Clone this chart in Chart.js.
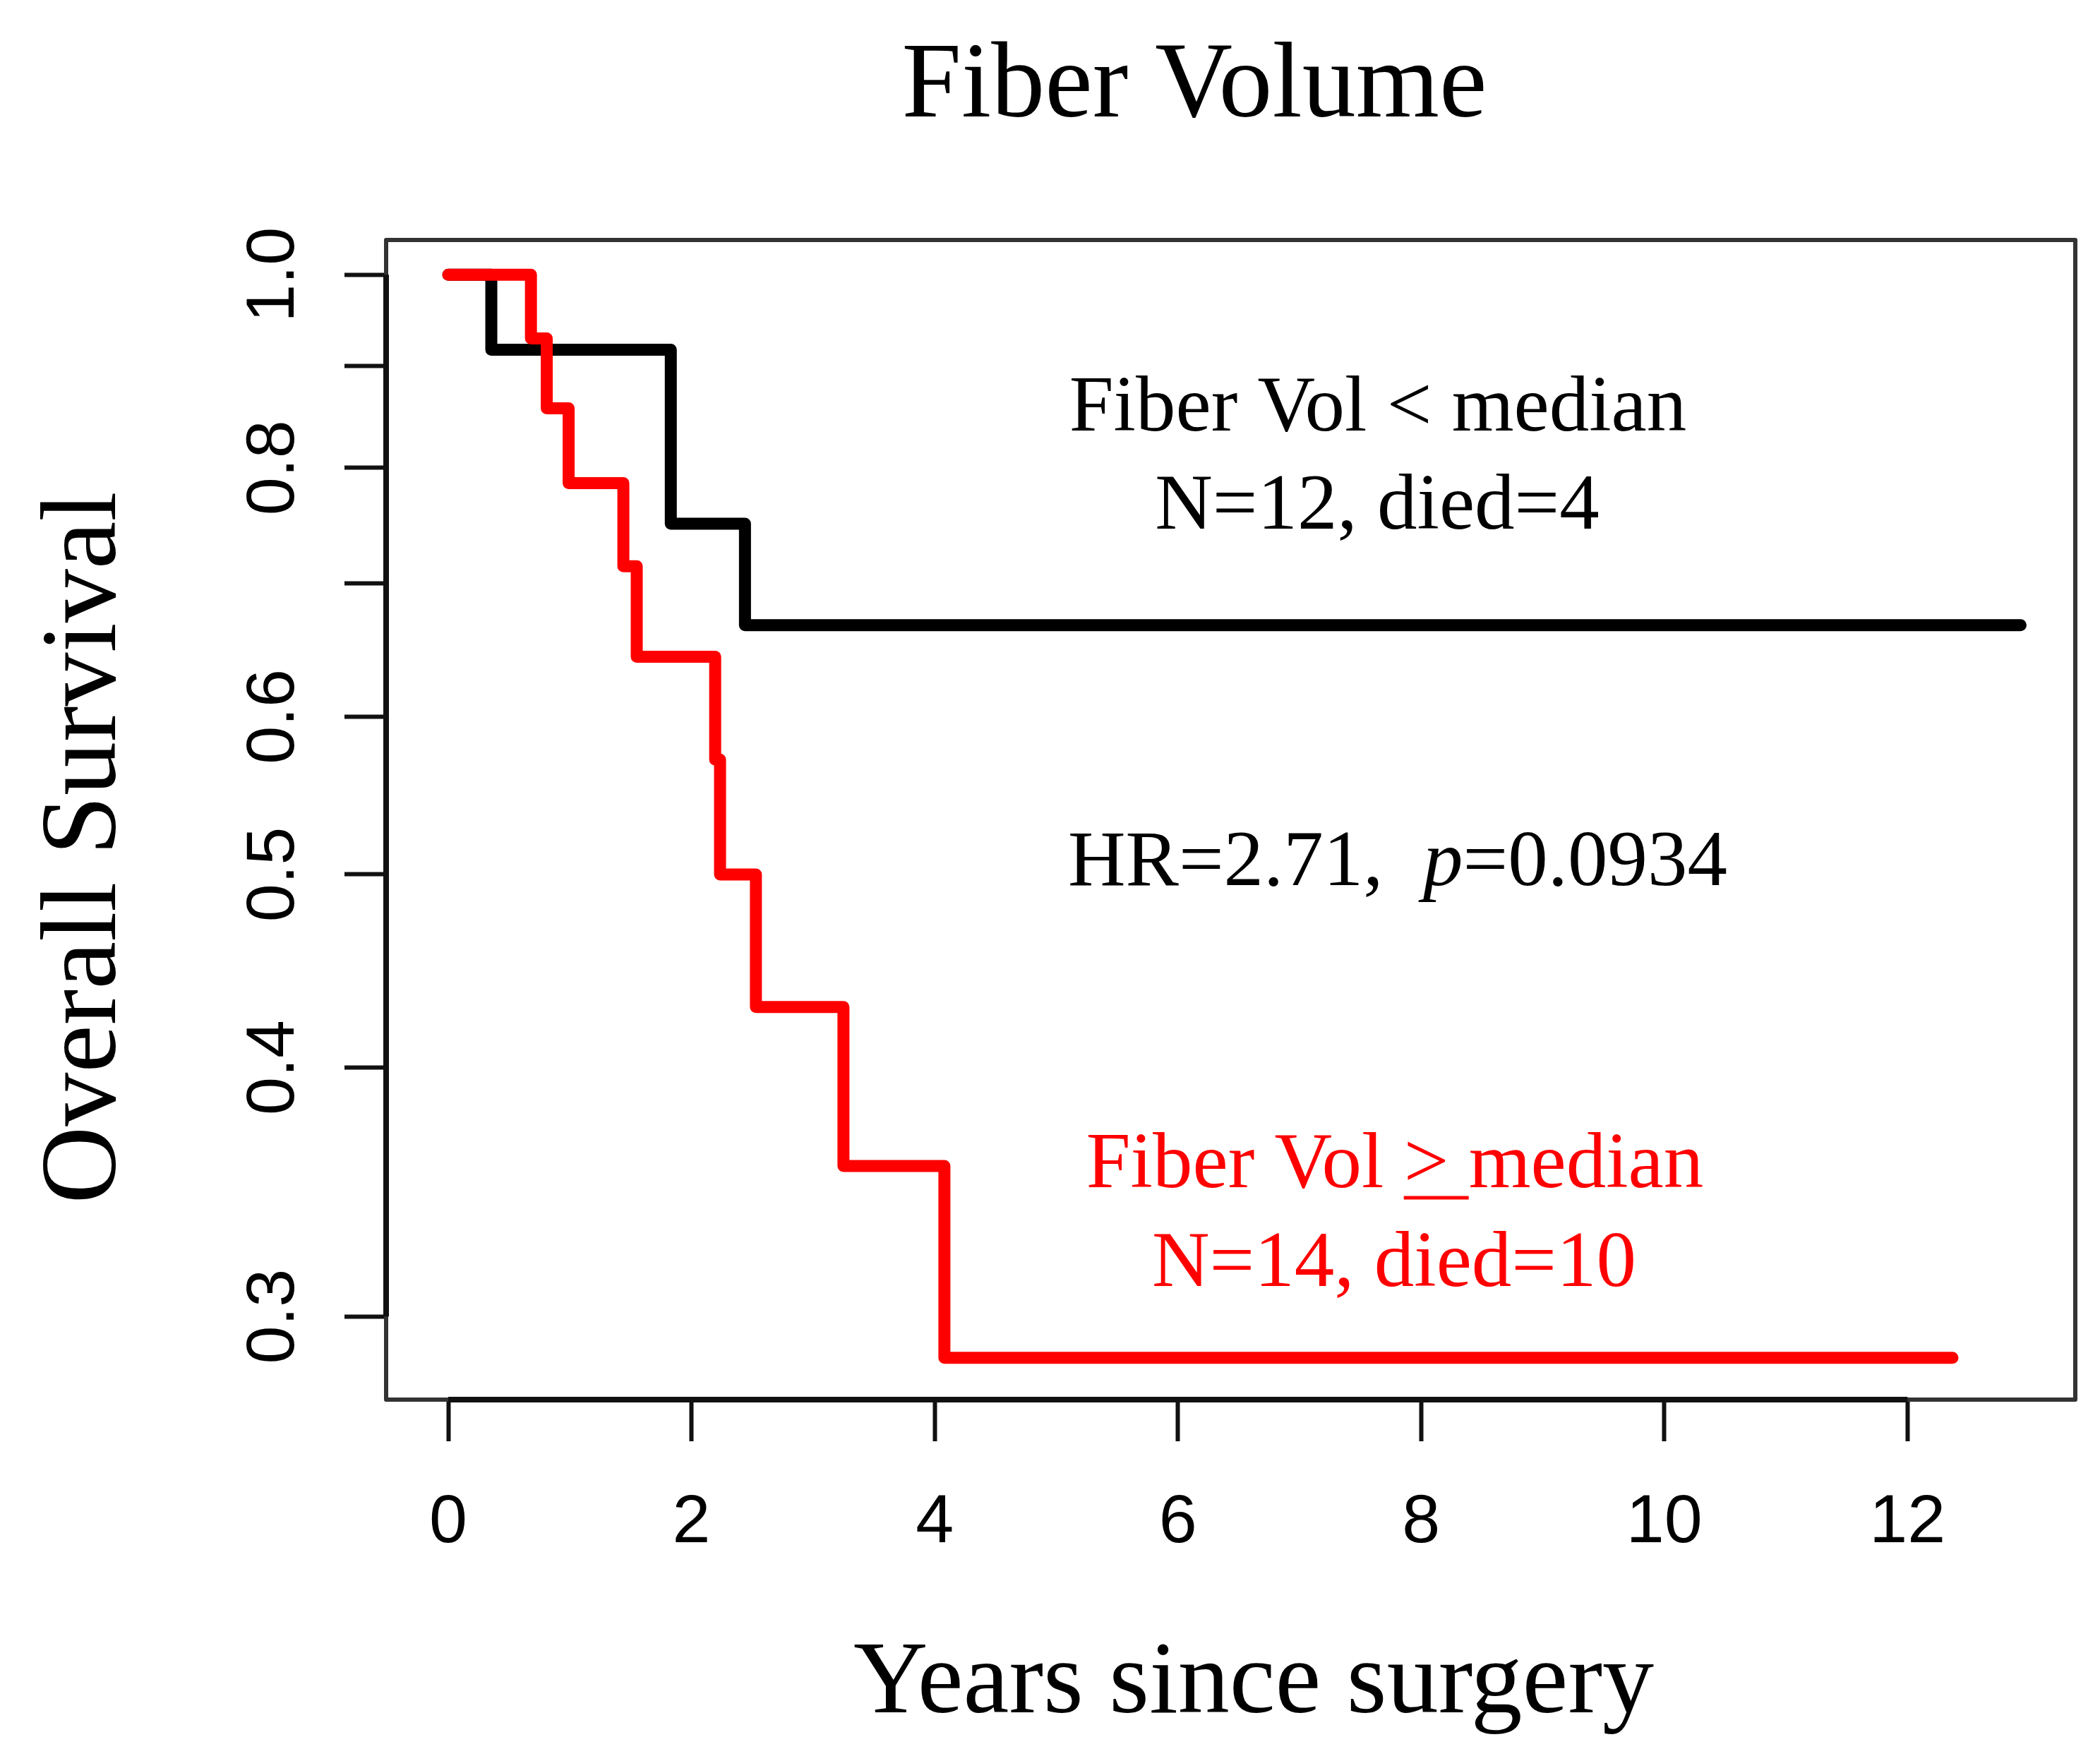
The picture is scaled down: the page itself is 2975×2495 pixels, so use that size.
<!DOCTYPE html>
<html>
<head>
<meta charset="utf-8">
<title>Fiber Volume</title>
<script src="https://cdn.jsdelivr.net/npm/chart.js@4.4.1/dist/chart.umd.min.js"></script>
<style>
  html, body { margin: 0; padding: 0; background: #fff; }
  canvas { display: block; }
</style>
</head>
<body>
<canvas id="km" width="2975" height="2495"></canvas>
<script>
// Kaplan-Meier steps
const lowTimes = [0, 0.354, 1.83, 2.44, 12.93];
const lowSurv = [1.0, 0.917, 0.75, 0.667, 0.667];
const highTimes = [0, 0.68, 0.81, 0.99, 1.44, 1.55, 2.195, 2.235, 2.53, 3.25, 4.08, 12.37];
const highSurv = [1.0, 0.929, 0.857, 0.786, 0.714, 0.643, 0.571, 0.5, 0.429, 0.357, 0.286, 0.286];

// Axes
const xTicks = [0, 2, 4, 6, 8, 10, 12];
const yTicks = [0.3, 0.4, 0.5, 0.6, 0.7, 0.8, 0.9, 1.0];
const yTickLabels = ['0.3', '0.4', '0.5', '0.6', '', '0.8', '', '1.0'];
const xRange = [-0.511, 13.38];
const yRange = [0.2725, 1.041];

const serif = '"Liberation Serif", "Times New Roman", serif';
const sans = '"Liberation Sans", Arial, sans-serif';

function toPoints(xs, ys) {
  return xs.map((x, i) => ({ x, y: ys[i] }));
}

// Draw a line of text made of parts (some italic), centred on cx
function drawParts(ctx, parts, cx, y, size, color) {
  const fonts = parts.map(p => `${p.italic ? 'italic ' : ''}${size}px ${serif}`);
  let total = 0;
  const widths = parts.map((p, i) => { ctx.font = fonts[i]; const w = ctx.measureText(p.text).width; total += w; return w; });
  let x = cx - total / 2;
  ctx.fillStyle = color;
  ctx.textAlign = 'left';
  ctx.textBaseline = 'alphabetic';
  const starts = [];
  parts.forEach((p, i) => { ctx.font = fonts[i]; starts.push(x); ctx.fillText(p.text, x, y); x += widths[i]; });
  return { starts, widths };
}

const decor = {
  id: 'decor',
  beforeDraw(chart) {
    const ctx = chart.ctx;
    ctx.save();
    ctx.fillStyle = '#fff';
    ctx.fillRect(0, 0, chart.width, chart.height);
    ctx.restore();
  },
  afterDraw(chart) {
    const ctx = chart.ctx;
    const a = chart.chartArea;
    const xs = chart.scales.x;
    const ys = chart.scales.y;
    ctx.save();

    // plot box
    ctx.strokeStyle = '#333';
    ctx.lineWidth = 6;
    ctx.lineJoin = 'round';
    ctx.strokeRect(a.left, a.top, a.right - a.left, a.bottom - a.top);

    // axis lines (tick span only, like R)
    ctx.strokeStyle = '#111';
    ctx.lineWidth = 8;
    ctx.lineCap = 'butt';
    ctx.beginPath();
    ctx.moveTo(xs.getPixelForValue(xTicks[0]), a.bottom);
    ctx.lineTo(xs.getPixelForValue(xTicks[xTicks.length - 1]), a.bottom);
    ctx.moveTo(a.left, ys.getPixelForValue(yTicks[0]));
    ctx.lineTo(a.left, ys.getPixelForValue(yTicks[yTicks.length - 1]));
    ctx.stroke();

    // y tick labels, rotated
    ctx.fillStyle = '#000';
    ctx.font = `97px ${sans}`;
    ctx.textAlign = 'center';
    ctx.textBaseline = 'alphabetic';
    yTicks.forEach((v, i) => {
      if (!yTickLabels[i]) return;
      ctx.save();
      ctx.translate(a.left - 131, ys.getPixelForValue(v));
      ctx.rotate(-Math.PI / 2);
      ctx.fillText(yTickLabels[i], 0, 0);
      ctx.restore();
    });

    // titles
    ctx.font = `152px ${serif}`;
    ctx.fillText('Fiber Volume', 1692, 165);
    ctx.font = `146px ${serif}`;
    ctx.fillText('Years since surgery', 1776, 2426);
    ctx.save();
    ctx.translate(163, 1201);
    ctx.rotate(-Math.PI / 2);
    ctx.font = `152px ${serif}`;
    ctx.fillText('Overall Survival', 0, 0);
    ctx.restore();

    // annotations
    const fs = 113;
    drawParts(ctx, [{ text: 'Fiber Vol < median' }], 1952, 610, fs, '#000');
    drawParts(ctx, [{ text: 'N=12, died=4' }], 1951, 749, fs, '#000');
    drawParts(ctx, [{ text: 'HR=2.71,  ' }, { text: 'p', italic: true }, { text: '=0.0934' }], 1980, 1254, fs, '#000');
    const red = '#ff0000';
    const r = drawParts(ctx, [{ text: 'Fiber Vol ' }, { text: '> ' }, { text: 'median' }], 1976, 1682, fs, red);
    ctx.strokeStyle = red;
    ctx.lineWidth = 5;
    ctx.beginPath();
    ctx.moveTo(r.starts[1], 1697);
    ctx.lineTo(r.starts[1] + r.widths[1], 1697);
    ctx.stroke();
    drawParts(ctx, [{ text: 'N=14, died=10' }], 1975, 1822, fs, red);

    ctx.restore();
  }
};

new Chart(document.getElementById('km'), {
  type: 'line',
  data: {
    datasets: [
      {
        label: 'Fiber Vol >= median',
        data: toPoints(highTimes, highSurv),
        borderColor: '#ff0000',
        borderWidth: 17,
        borderCapStyle: 'round',
        borderJoinStyle: 'round',
        stepped: true,
        pointRadius: 0,
        fill: false,
        clip: false
      },
      {
        label: 'Fiber Vol < median',
        data: toPoints(lowTimes, lowSurv),
        borderColor: '#000000',
        borderWidth: 17,
        borderCapStyle: 'round',
        borderJoinStyle: 'round',
        stepped: true,
        pointRadius: 0,
        fill: false,
        clip: false
      }
    ]
  },
  options: {
    responsive: false,
    animation: false,
    devicePixelRatio: 1,
    layout: { padding: { top: 340, right: 35, left: 0, bottom: 0 } },
    plugins: {
      legend: { display: false },
      title: { display: false },
      tooltip: { enabled: false }
    },
    scales: {
      x: {
        type: 'linear',
        min: xRange[0],
        max: xRange[1],
        afterBuildTicks: (s) => { s.ticks = xTicks.map(v => ({ value: v })); },
        afterFit: (s) => { s.height = 512; },
        border: { display: false },
        grid: { display: true, drawOnChartArea: false, drawTicks: true, tickLength: 59, tickWidth: 6, tickColor: '#111' },
        ticks: {
          autoSkip: false,
          maxRotation: 0,
          padding: 58,
          color: '#000',
          font: { family: sans, size: 97 },
          callback: (v) => String(v)
        }
      },
      y: {
        type: 'logarithmic',
        min: yRange[0],
        max: yRange[1],
        afterBuildTicks: (s) => { s.ticks = yTicks.map(v => ({ value: v })); },
        afterFit: (s) => { s.width = 547; },
        border: { display: false },
        grid: { display: true, drawOnChartArea: false, drawTicks: true, tickLength: 59, tickWidth: 6, tickColor: '#111' },
        ticks: { display: false, autoSkip: false }
      }
    }
  },
  plugins: [decor]
});
</script>
</body>
</html>
